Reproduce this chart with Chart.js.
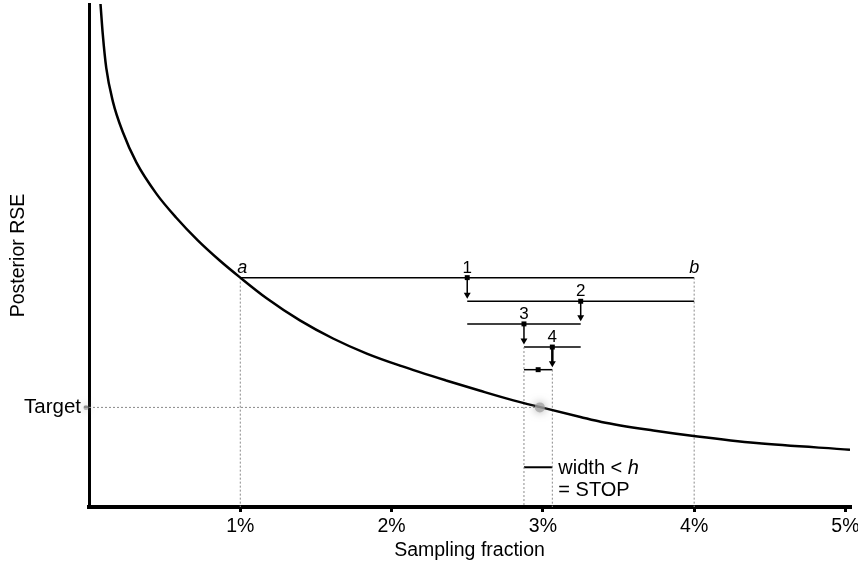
<!DOCTYPE html>
<html>
<head>
<meta charset="utf-8">
<script src="https://cdn.jsdelivr.net/npm/chart.js@4/dist/chart.umd.min.js"></script>
<style>
    html, body { margin: 0; padding: 0; background: #fff; }
    #wrap { width: 858px; height: 563px; position: relative; }
</style>
</head>
<body>
<div id="wrap"><canvas id="chart"></canvas></div>
<script>
// curve: sampling fraction (%) vs posterior RSE (0..1 of axis height)
var curveX = [0.076, 0.091, 0.114, 0.158, 0.224, 0.313, 0.445, 0.577, 0.719, 0.864, 1.0, 1.174, 1.394, 1.613, 1.836, 2.056, 2.366, 2.586, 2.805, 2.99, 3.248, 3.387, 3.73, 4.023, 4.411, 5.03];
var curveY = [1.0, 0.94, 0.873, 0.806, 0.745, 0.685, 0.623, 0.575, 0.53, 0.49, 0.456, 0.415, 0.371, 0.335, 0.305, 0.281, 0.251, 0.231, 0.212, 0.198, 0.179, 0.169, 0.152, 0.140, 0.127, 0.114];

var target = 0.198;
var targetX = 2.98;
var xTicks = [1, 2, 3, 4, 5];

// bisection steps: interval ends, midpoint marker, level of each step line
var stepLeft = [1, 2.5, 2.5, 2.875, 2.875];
var stepRight = [4, 4, 3.25, 3.25, 3.0625];
var stepMid = [2.5, 3.25, 2.875, 3.0625, 2.96875];
var stepLevel = [0.456, 0.409, 0.364, 0.318, 0.273];
var stepLabels = ['1', '2', '3', '4', ''];

// dotted guides dropped to the axis
var guideX = [1, 4, 2.875, 3.0625];
var guideTop = [0.456, 0.456, 0.318, 0.273];

var stopLevel = 0.079;

var FONT = "'Liberation Sans', Arial, sans-serif";
var datasets = [];

datasets.push({
    data: curveX.map(function (x, i) { return { x: x, y: curveY[i] }; }),
    showLine: true,
    borderColor: '#000',
    borderWidth: 2.5,
    pointRadius: 0,
    cubicInterpolationMode: 'monotone'
});

datasets.push({
    data: [{ x: 0, y: target }, { x: targetX, y: target }],
    showLine: true,
    borderColor: '#8a8a8a',
    borderWidth: 1,
    borderDash: [2, 2],
    pointRadius: 0
});

guideX.forEach(function (x, i) {
    datasets.push({
        data: [{ x: x, y: guideTop[i] }, { x: x, y: 0 }],
        showLine: true,
        borderColor: '#8a8a8a',
        borderWidth: 1,
        borderDash: [2, 2],
        pointRadius: 0
    });
});

stepLeft.forEach(function (x, i) {
    datasets.push({
        data: [{ x: x, y: stepLevel[i] }, { x: stepRight[i], y: stepLevel[i] }],
        showLine: true,
        borderColor: '#000',
        borderWidth: 1.5,
        pointRadius: 0
    });
});

// arrows from each marker down to the next step line
stepMid.forEach(function (x, i) {
    if (i + 1 >= stepLevel.length) {
        return;
    }
    datasets.push({
        data: [{ x: x, y: stepLevel[i] }, { x: x, y: stepLevel[i + 1] + 0.013 }],
        showLine: true,
        borderColor: '#000',
        backgroundColor: '#000',
        borderWidth: i === 3 ? 2.5 : 1.5,
        pointStyle: 'triangle',
        rotation: 180,
        pointRadius: [0, 4],
        pointBorderWidth: 0
    });
});

datasets.push({
    data: stepMid.map(function (x, i) { return { x: x, y: stepLevel[i] }; }),
    showLine: false,
    pointStyle: 'rect',
    pointRadius: 3.5,
    backgroundColor: '#000',
    borderColor: '#000',
    borderWidth: 0
});

datasets.push({
    data: [{ x: stepLeft[4], y: stopLevel }, { x: stepRight[4], y: stopLevel }],
    showLine: true,
    borderColor: '#000',
    borderWidth: 2,
    pointRadius: 0
});

var annotations = {
    id: 'annotations',
    afterDatasetsDraw: function (chart) {
        var ctx = chart.ctx;
        var xs = chart.scales.x;
        var ys = chart.scales.y;

        ctx.save();

        // soft grey dots at the target
        ctx.fillStyle = 'rgba(160,160,160,0.75)';
        ctx.shadowColor = 'rgba(140,140,140,1)';
        ctx.shadowBlur = 8;
        ctx.beginPath();
        ctx.arc(xs.getPixelForValue(targetX), ys.getPixelForValue(target), 5, 0, Math.PI * 2);
        ctx.fill();
        ctx.beginPath();
        ctx.arc(xs.left - 3, ys.getPixelForValue(target), 2.5, 0, Math.PI * 2);
        ctx.fill();
        ctx.shadowBlur = 0;

        ctx.fillStyle = '#000';
        ctx.textAlign = 'center';
        ctx.textBaseline = 'alphabetic';

        ctx.font = '17px ' + FONT;
        stepMid.forEach(function (x, i) {
            if (stepLabels[i]) {
                ctx.fillText(stepLabels[i], xs.getPixelForValue(x), ys.getPixelForValue(stepLevel[i]) - 5);
            }
        });

        ctx.font = 'italic 18px ' + FONT;
        ctx.fillText('a', xs.getPixelForValue(stepLeft[0]) + 2, ys.getPixelForValue(stepLevel[0]) - 5);
        ctx.fillText('b', xs.getPixelForValue(stepRight[0]), ys.getPixelForValue(stepLevel[0]) - 5);

        ctx.textAlign = 'left';
        var tx = xs.getPixelForValue(stepRight[4]) + 6;
        var ty = ys.getPixelForValue(stopLevel);
        ctx.font = '20px ' + FONT;
        var w = ctx.measureText('width < ').width;
        ctx.fillText('width < ', tx, ty + 7);
        ctx.font = 'italic 20px ' + FONT;
        ctx.fillText('h', tx + w, ty + 7);
        ctx.font = '20px ' + FONT;
        ctx.fillText('= STOP', tx, ty + 29);

        ctx.restore();
    }
};

new Chart(document.getElementById('chart'), {
    type: 'scatter',
    data: { datasets: datasets },
    plugins: [annotations],
    options: {
        responsive: true,
        maintainAspectRatio: false,
        animation: false,
        layout: { padding: { top: 3, right: 8, left: 0, bottom: 0 } },
        plugins: {
            legend: { display: false },
            tooltip: { enabled: false }
        },
        scales: {
            x: {
                type: 'linear',
                min: 0,
                max: 5.03,
                afterBuildTicks: function (scale) {
                    scale.ticks = xTicks.map(function (v) { return { value: v }; });
                },
                afterFit: function (scale) {
                    scale.height = 56;
                    scale.paddingLeft = 0;
                    scale.paddingRight = 0;
                },
                ticks: {
                    color: '#000',
                    padding: 3,
                    maxRotation: 0,
                    font: { family: FONT, size: 19.5 },
                    callback: function (v) { return v + '%'; }
                },
                grid: { drawOnChartArea: false, drawTicks: true, tickLength: 5, color: '#000', lineWidth: 3 },
                border: { color: '#000', width: 4 },
                title: {
                    display: true,
                    text: 'Sampling fraction',
                    color: '#000',
                    font: { family: FONT, size: 19.5 },
                    padding: { top: 0, bottom: 1 }
                }
            },
            y: {
                type: 'linear',
                min: 0,
                max: 1,
                afterBuildTicks: function (scale) {
                    scale.ticks = [{ value: target }];
                },
                afterFit: function (scale) {
                    scale.width = 89;
                    scale.paddingTop = 0;
                    scale.paddingBottom = 0;
                },
                ticks: {
                    color: '#000',
                    padding: 3,
                    font: { family: FONT, size: 20.5 },
                    callback: function () { return 'Target'; }
                },
                grid: { drawOnChartArea: false, drawTicks: true, tickLength: 5, color: '#444', lineWidth: 2 },
                border: { color: '#000', width: 3 },
                title: {
                    display: true,
                    text: 'Posterior RSE',
                    color: '#000',
                    font: { family: FONT, size: 19.5 },
                    padding: { top: 7, bottom: 0 }
                }
            }
        }
    }
});
</script>
</body>
</html>
